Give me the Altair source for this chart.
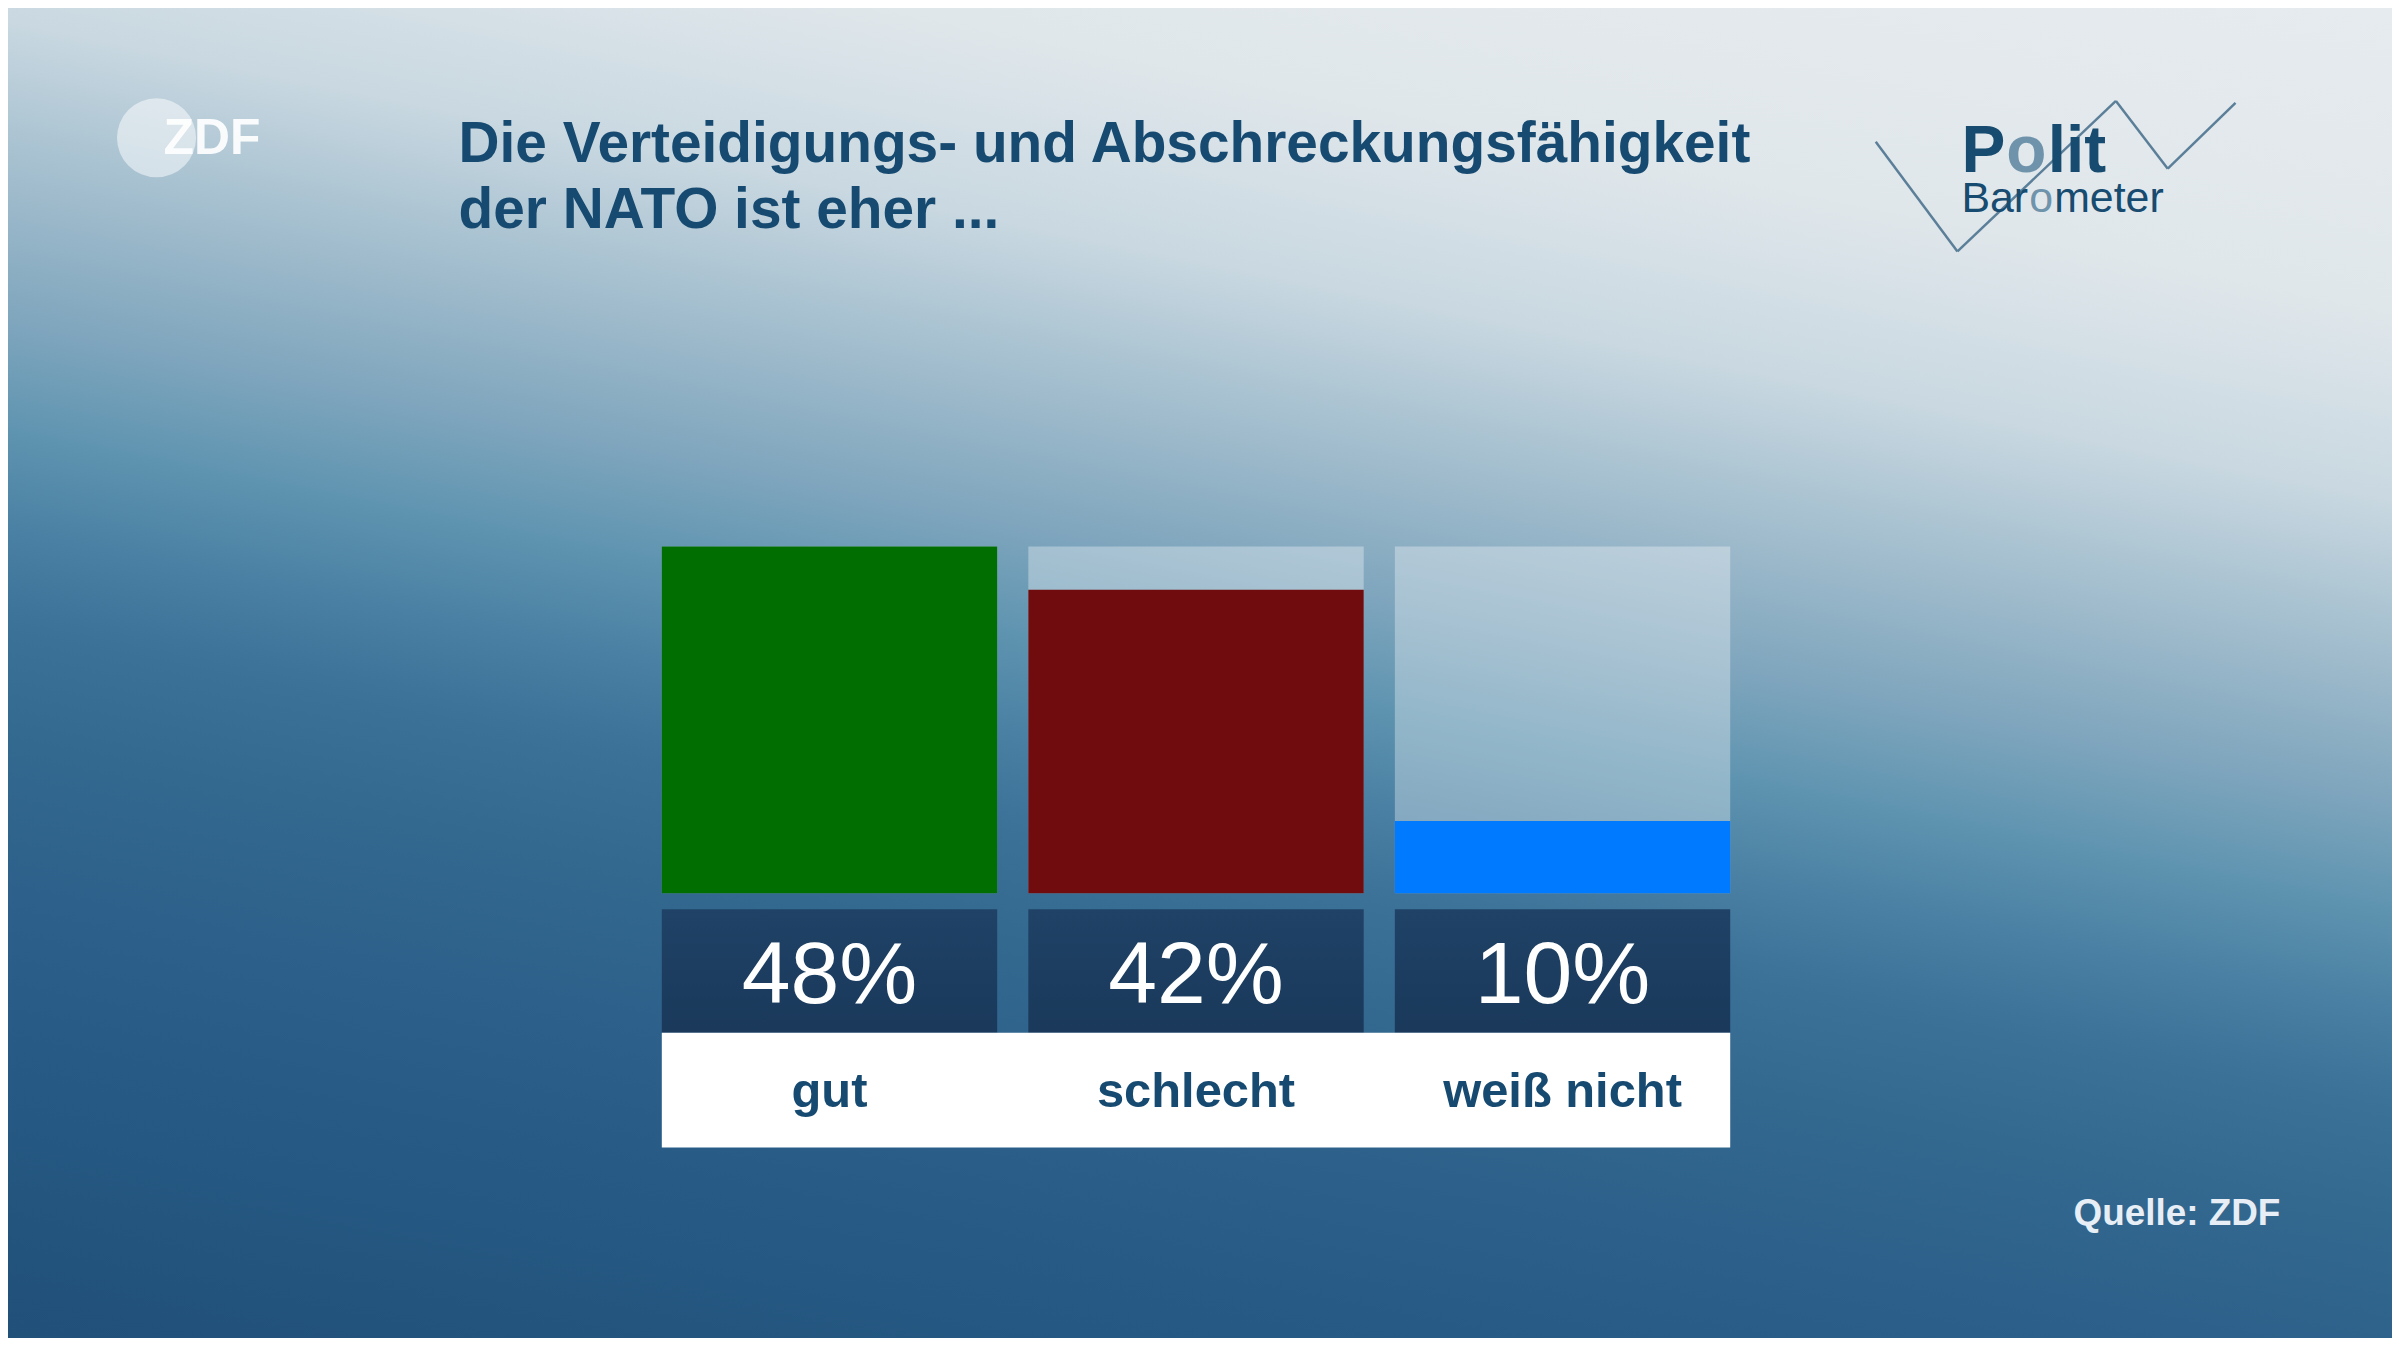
import altair as alt
import pandas as pd

# ---- data ----
categories = ["gut", "schlecht", "weiß nicht"]
values = [48, 42, 10]
value_labels = ["48%", "42%", "10%"]
bar_colors = ["#006e00", "#710c0e", "#007bff"]
title_lines = ["Die Verteidigungs- und Abschreckungsfähigkeit", "der NATO ist eher ..."]
source_text = "Quelle: ZDF"

# page geometry (chart coords = page coords - 8)
TOTAL_W, TOTAL_H = 2392, 1330
PL, PT = 656, 538            # left / top of the bar area
PW, PH = 1072, 348           # bar area size
PR = TOTAL_W - PL - PW
PB = TOTAL_H - PT - PH


def cx(v):  # chart x -> view x
    return v - PL


def cy(v):  # chart y -> view y
    return v - PT


NAVY = "#174a70"
FONT = "Liberation Sans"

df = pd.DataFrame({"cat": categories, "value": values, "label": value_labels})
one = alt.Data(values=[{"k": 1}])

x_scale = alt.Scale(domain=categories, paddingInner=0.085, paddingOuter=0)
y_scale = alt.Scale(domain=[0, max(values)], nice=False, zero=True)
X = alt.X("cat:N", scale=x_scale, axis=None)

bg_stops = [
    ("#e6ebef", 0.0), ("#e0e7eb", 0.166), ("#c9d8e1", 0.271), ("#adc5d3", 0.331),
    ("#95b4c7", 0.386), ("#7ca4bc", 0.442), ("#5f94b0", 0.496), ("#4a80a3", 0.551),
    ("#3b7097", 0.607), ("#33688f", 0.667), ("#2d618b", 0.75), ("#275b85", 0.833),
    ("#23557f", 0.915), ("#215079", 1.0),
]
bg_grad = alt.LinearGradient(
    gradient="linear",
    x1=1.0, y1=0.0, x2=0.5649, y2=1.2096,
    stops=[alt.GradientStop(color=c, offset=o) for c, o in bg_stops],
)

background = alt.Chart(one).mark_rect(color=bg_grad).encode(
    x=alt.value(cx(-4)), x2=alt.value(cx(TOTAL_W + 4)),
    y=alt.value(cy(-4)), y2=alt.value(cy(TOTAL_H + 4)),
)

base = alt.Chart(df)

track = base.mark_rect(color="#ffffff", opacity=0.33).encode(
    x=X, y=alt.value(0), y2=alt.value(PH)
)

bars = base.mark_rect().encode(
    x=X,
    y=alt.Y("value:Q", scale=y_scale, axis=None),
    y2=alt.datum(0),
    color=alt.Color("cat:N", scale=alt.Scale(domain=categories, range=bar_colors), legend=None),
)

box_grad = alt.LinearGradient(
    gradient="linear", x1=0, y1=0, x2=0, y2=1,
    stops=[alt.GradientStop(color="#1f4266", offset=0), alt.GradientStop(color="#1a395b", offset=1)],
)
value_boxes = base.mark_rect(color=box_grad).encode(
    x=X, y=alt.value(cy(902)), y2=alt.value(cy(1026))
)

value_text = base.mark_text(
    font=FONT, fontSize=88, color="#ffffff", baseline="alphabetic", align="center"
).encode(x=X, y=alt.value(cy(996)), text="label:N")

label_box = alt.Chart(one).mark_rect(color="#ffffff").encode(
    x=alt.value(0), x2=alt.value(PW), y=alt.value(cy(1026)), y2=alt.value(cy(1141))
)

cat_text = base.mark_text(
    font=FONT, fontSize=49, fontWeight="bold", color=NAVY, baseline="alphabetic", align="center"
).encode(x=X, y=alt.value(cy(1100)), text="cat:N")


def free_text(txt, x, y, size, weight, color, align="left", opacity=1.0):
    return alt.Chart(one).mark_text(
        font=FONT, fontSize=size, fontWeight=weight, color=color, opacity=opacity,
        align=align, baseline="alphabetic", text=txt,
    ).encode(x=alt.value(cx(x)), y=alt.value(cy(y)))


title1 = free_text(title_lines[0], 452, 152, 57, "bold", NAVY)
title2 = free_text(title_lines[1], 452, 219, 57, "bold", NAVY)
source = free_text(source_text, 2280, 1219, 37, "bold", "#e8eef5", align="right")

# ZDF logo
zdf_circle = alt.Chart(one).mark_circle(color="#ffffff", opacity=0.5, size=6300).encode(
    x=alt.value(cx(149)), y=alt.value(cy(128))
)
zdf_text = free_text("ZDF", 156, 144, 50, "bold", "#ffffff", opacity=0.92)

# Politbarometer logo
zig_pts = [(1874, 132), (1956, 242), (2115, 91), (2167, 159), (2235, 93)]
zig = []
for (ax, ay), (bx, by) in zip(zig_pts[:-1], zig_pts[1:]):
    zig.append(
        alt.Chart(one).mark_rule(color="#5b7f99", strokeWidth=2.5).encode(
            x=alt.value(cx(ax)), y=alt.value(cy(ay)), x2=alt.value(cx(bx)), y2=alt.value(cy(by))
        )
    )

LOGO_DARK = "#174b70"
LOGO_LIGHT = "#7093ac"
logo_parts = [
    free_text("P", 1960, 162, 66, "bold", LOGO_DARK),
    free_text("o", 2005, 162, 66, "bold", LOGO_LIGHT),
    free_text("lit", 2046.5, 162, 66, "bold", LOGO_DARK),
    free_text("Bar", 1960, 202, 43, "normal", LOGO_DARK),
    free_text("o", 2028, 202, 43, "normal", LOGO_LIGHT),
    free_text("meter", 2053, 202, 43, "normal", LOGO_DARK),
]

chart = alt.layer(
    background, track, bars, value_boxes, value_text, label_box, cat_text,
    title1, title2, source, zdf_circle, zdf_text, *zig, *logo_parts,
).properties(
    width=PW, height=PH,
    autosize=alt.AutoSizeParams(type="none"),
    padding={"left": PL, "top": PT, "right": PR, "bottom": PB},
    background="#ffffff",
).configure_view(stroke=None)

chart.save("out.html", embed_options={"renderer": "svg", "actions": False})
